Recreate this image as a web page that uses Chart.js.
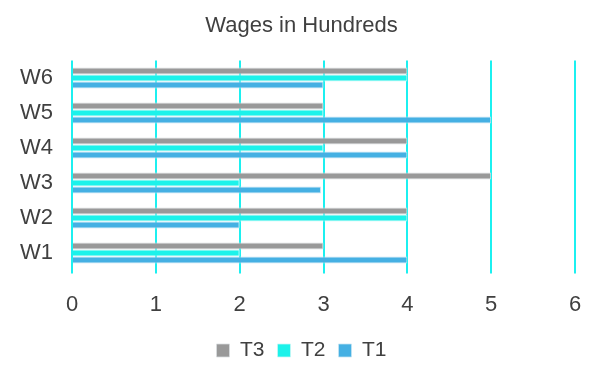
<!DOCTYPE html>
<html>
<head>
<meta charset="utf-8">
<script src="https://cdn.jsdelivr.net/npm/chart.js@4/dist/chart.umd.min.js"></script>
<style>
html,body{margin:0;padding:0;background:#fff;}
#wrap{width:603px;height:376px;}
</style>
</head>
<body>
<div id="wrap"><canvas id="c" width="603" height="376"></canvas></div>
<script>
const categories = ['W1','W2','W3','W4','W5','W6'];
const t1Values = [4, 2, 2.97, 4, 5, 3];
const t2Values = [2, 4, 2, 3, 3, 4];
const t3Values = [3, 4, 5, 4, 3, 4];
const xTicks = [0,1,2,3,4,5,6];

const FONT = "'Liberation Sans', Arial, sans-serif";

new Chart(document.getElementById('c'), {
  type: 'bar',
  data: {
    labels: categories,
    datasets: [
      {label:'T3', data:t3Values, backgroundColor:'#999999', borderColor:'#d9dde0', borderWidth:{top:1,bottom:1,left:0,right:1}},
      {label:'T2', data:t2Values, backgroundColor:'#1cf2ea', borderColor:'#c8f7f5', borderWidth:{top:1,bottom:1,left:0,right:1}},
      {label:'T1', data:t1Values, backgroundColor:'#45b0e3', borderColor:'#c6e4f3', borderWidth:{top:1,bottom:1,left:0,right:1}}
    ]
  },
  options: {
    indexAxis: 'y',
    responsive: false,
    animation: false,
    devicePixelRatio: 1,
    layout: {padding: {left: 0, right: 0, top: 2, bottom: 5}},
    datasets: {bar: {barPercentage: 1.0, categoryPercentage: 0.6}},
    scales: {
      x: {
        min: 0, max: 6,
        afterBuildTicks: (s) => { s.ticks = xTicks.map(v => ({value: v})); },
        afterFit: (s) => { s.height = 56.5; s.paddingRight = 28; },
        grid: {color: '#1cf0f0', lineWidth: 2, drawTicks: true, tickLength: 3, tickColor: '#1cf0f0'},
        border: {display: false},
        ticks: {font: {family: FONT, size: 22}, color: '#404040', padding: 18}
      },
      y: {
        reverse: true,
        afterFit: (s) => { s.width = 72; },
        grid: {display: false, drawTicks: false},
        border: {display: false},
        ticks: {font: {family: FONT, size: 22}, color: '#404040', padding: 19}
      }
    },
    plugins: {
      title: {display: true, text: 'Wages in Hundreds', font: {family: FONT, size: 22, weight: 'normal'}, color: '#404040', padding: {top: 11, bottom: 21}},
      legend: {
        position: 'bottom',
        labels: {font: {family: FONT, size: 21}, color: '#404040', boxWidth: 13, boxHeight: 13, padding: 13}
      },
      tooltip: {enabled: false}
    }
  }
});
</script>
</body>
</html>
